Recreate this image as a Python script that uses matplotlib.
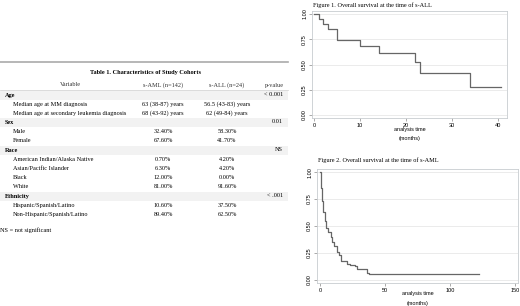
import matplotlib
matplotlib.use("Agg")
import matplotlib.pyplot as plt
from matplotlib.patches import Rectangle
from matplotlib.lines import Line2D

W, H = 520, 306

# table data
col_headers = ["Variable", "s-AML (n=142)", "s-ALL (n=24)", "p-value"]
groups = ["Age", "Sex", "Race", "Ethnicity"]
group_p = ["< 0.001", "0.01", "NS", "< .001"]
group_rows = [
    ["Median age at MM diagnosis", "Median age at secondary leukemia diagnosis"],
    ["Male", "Female"],
    ["American Indian/Alaska Native", "Asian/Pacific Islander", "Black", "White"],
    ["Hispanic/Spanish/Latino", "Non-Hispanic/Spanish/Latino"],
]
aml_vals = [
    ["63 (38-87) years", "68 (43-92) years"],
    ["32.40%", "67.60%"],
    ["0.70%", "6.30%", "12.00%", "81.00%"],
    ["10.60%", "89.40%"],
]
all_vals = [
    ["56.5 (43-83) years", "62 (49-84) years"],
    ["58.30%", "41.70%"],
    ["4.20%", "4.20%", "0.00%", "91.60%"],
    ["37.50%", "62.50%"],
]

# KM curve for s-ALL (months, survival)
all_t = [0, 1, 2, 3, 5, 10, 14, 22, 23, 34, 40.6]
all_s = [1.0, 0.954, 0.906, 0.853, 0.746, 0.684, 0.609, 0.521, 0.414, 0.274, 0.274]

# KM curve for s-AML
aml_t = [0, 0.5, 1.5, 2.6, 3.6, 4.6, 6.4, 8.2, 9.5, 11, 12.8, 14.4, 15.9, 20.5, 23, 27, 28.2, 35.9, 37.7, 122]
aml_s = [1.0, 0.85, 0.73, 0.63, 0.55, 0.48, 0.44, 0.40, 0.35, 0.31, 0.26, 0.23, 0.17, 0.15, 0.14, 0.13, 0.10, 0.065, 0.055, 0.055]

fig = plt.figure(figsize=(W / 100, H / 100), dpi=100)
fig.patch.set_facecolor("white")
serif = "Liberation Serif"
sans = "Liberation Sans"


def px(x, y):
    return x / W, 1 - y / H


def txt(x, y, s, **kw):
    kw.setdefault("fontsize", 4.5)
    kw.setdefault("family", serif)
    kw.setdefault("va", "center")
    fig.text(*px(x, y), s, **kw)


# table
fig.add_artist(Line2D([0, 288 / W], [1 - 62 / H] * 2, color="#aaaaaa", lw=1.2))
txt(145, 72, "Table 1. Characteristics of Study Cohorts", ha="center", weight="bold")
for x, s in zip([70, 163, 227, 274], col_headers):
    txt(x, 85, s, ha="center", color="#333333")
fig.add_artist(Line2D([0, 288 / W], [1 - 89.5 / H] * 2, color="#cccccc", lw=0.5))

y = 95
for g, p, rows, a, b in zip(groups, group_p, group_rows, aml_vals, all_vals):
    fig.add_artist(Rectangle(px(0, y + 4.5), 288 / W, 9 / H, color="#f2f2f2", lw=0))
    txt(5, y, g, weight="bold")
    txt(283, y - 1, p, ha="right")
    y += 9.2
    for r, va, vb in zip(rows, a, b):
        txt(13, y, r)
        txt(163, y, va, ha="center")
        txt(227, y, vb, ha="center")
        y += 9.2
txt(0, 230, "NS = not significant")


def km_axes(rect, t, s, xticks, xlim, title, title_y, lab_y):
    ax = fig.add_axes(rect)
    ax.step(t, s, where="post", color="#666666", lw=0.9)
    ax.set_xlim(*xlim)
    ax.set_ylim(-0.03, 1.03)
    ax.set_xticks(xticks)
    ax.set_yticks([0, 0.25, 0.5, 0.75, 1.0])
    ax.set_yticklabels(["0.00", "0.25", "0.50", "0.75", "1.00"], rotation=90, va="center")
    ax.grid(axis="y", color="#e8e8e8", lw=0.6)
    ax.set_axisbelow(True)
    for sp in ax.spines.values():
        sp.set_color("#c8ccd0")
        sp.set_linewidth(0.6)
    ax.tick_params(labelsize=4, length=2, width=0.5, pad=1.5, color="#888888")
    for lab in ax.get_xticklabels() + ax.get_yticklabels():
        lab.set_family(sans)
    cx = (rect[0] + rect[2] / 2) * W
    txt(cx, lab_y, "analysis time", ha="center", family=sans, fontsize=4)
    txt(cx, lab_y + 9, "(months)", ha="center", family=sans, fontsize=4)
    txt(rect[0] * W + 1, title_y, title, ha="left")
    return ax


km_axes([312 / W, 1 - 118 / H, 195 / W, 107 / H], all_t, all_s, [0, 10, 20, 30, 40], (-0.5, 42),
        "Figure 1. Overall survival at the time of s-ALL", 5, 130)
km_axes([317 / W, 1 - 283 / H, 201 / W, 114 / H], aml_t, aml_s, [0, 50, 100, 150], (-2.3, 152.3),
        "Figure 2. Overall survival at the time of s-AML", 160, 294)

fig.savefig("out.png", dpi=100)
